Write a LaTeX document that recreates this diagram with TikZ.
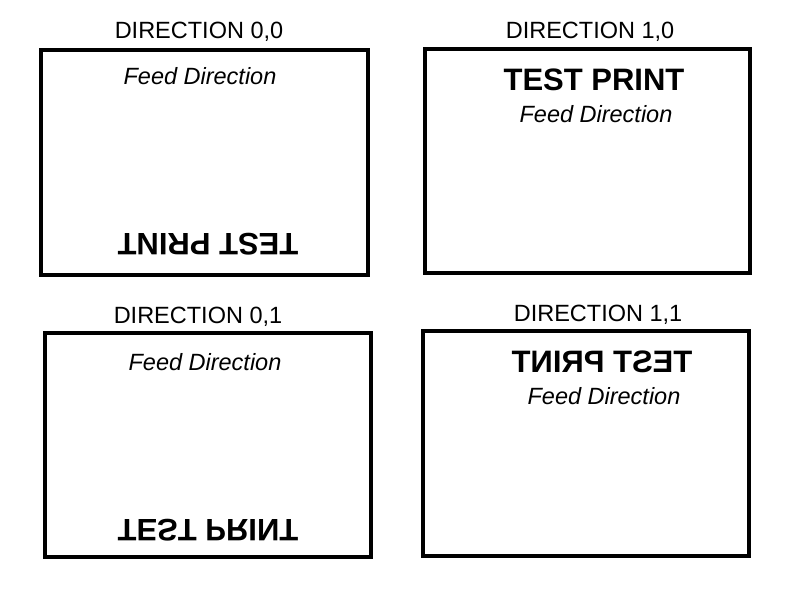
\documentclass[tikz,border=0pt]{standalone}
\usepackage{fontspec}
\setmainfont{Liberation Sans}
\usepackage{tikz}

\tikzset{
  paper/.style={line width=4pt, draw=black},
  dirlabel/.style={font=\fontsize{23.5}{27}\selectfont, inner sep=0pt},
  feed/.style={font=\fontsize{23.5}{27}\selectfont\itshape, inner sep=0pt},
  testprint/.style={font=\fontsize{31}{35}\selectfont\bfseries, inner sep=0pt}
}

\begin{document}
\begin{tikzpicture}[x=1pt, y=-1pt]
\useasboundingbox (0,0) rectangle (800,600);

\coordinate (A1) at (41,50);   % 0,0
\coordinate (A2) at (368,275);
\coordinate (B1) at (425,49);  % 1,0
\coordinate (B2) at (750,273);
\coordinate (C1) at (45,333);  % 0,1
\coordinate (C2) at (371,557);
\coordinate (D1) at (423,331); % 1,1
\coordinate (D2) at (749,556);

\draw[paper] (A1) rectangle (A2);
\draw[paper] (B1) rectangle (B2);
\draw[paper] (C1) rectangle (C2);
\draw[paper] (D1) rectangle (D2);

%% direction 0,0
\node[dirlabel] (dir00) at (199,32) {DIRECTION 0,0};
\node[feed] (feed00) at (200,76) {Feed Direction};
\node[testprint, rotate=180] (tp00) at (208,244) {TEST PRINT};

%% direction 1,0
\node[dirlabel] (dir10) at (590,32) {DIRECTION 1,0};
\node[testprint] (tp10) at (594,80) {TEST PRINT};
\node[feed] (feed10) at (596,114) {Feed Direction};

%% direction 0,1
\node[dirlabel] (dir01) at (198,317) {DIRECTION 0,1};
\node[feed] (feed01) at (205,362) {Feed Direction};
\node[testprint, yscale=-1] (tp01) at (208,530) {TEST PRINT};

%% direction 1,1
\node[dirlabel] (dir11) at (598,315) {DIRECTION 1,1};
\node[testprint, xscale=-1] (tp11) at (602,362) {TEST PRINT};
\node[feed] (feed11) at (604,396) {Feed Direction};
\end{tikzpicture}
\end{document}
